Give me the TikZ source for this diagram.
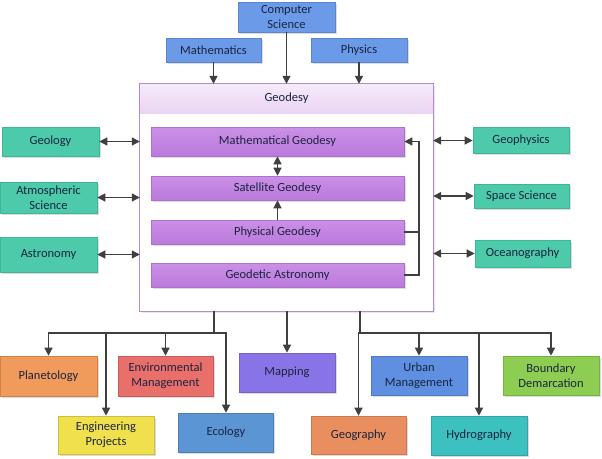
\documentclass[tikz,border=0pt]{standalone}
\usepackage{fontspec}
\setmainfont{Carlito}
\usetikzlibrary{arrows.meta,shadows}
\definecolor{txt}{HTML}{1B2440}
\definecolor{lnc}{HTML}{3F3F3F}
\definecolor{topblue}{HTML}{6A9AE8}
\definecolor{topblueD}{HTML}{5B86CF}
\definecolor{teal}{HTML}{4CCAAA}
\definecolor{tealD}{HTML}{3DB797}
\definecolor{purpT}{HTML}{CB90E6}
\definecolor{purpB}{HTML}{BA7ADC}
\definecolor{purpD}{HTML}{AE70CF}
\definecolor{hdrT}{HTML}{F6EAFA}
\definecolor{hdrB}{HTML}{EAD4F2}
\definecolor{geoD}{HTML}{B48CCB}
\definecolor{cplan}{HTML}{F09A5C}
\definecolor{cenv}{HTML}{E86F6A}
\definecolor{cmap}{HTML}{8874E6}
\definecolor{curb}{HTML}{5E8FE0}
\definecolor{cbnd}{HTML}{8DCE52}
\definecolor{ceng}{HTML}{EFE04C}
\definecolor{ceco}{HTML}{5C95D3}
\definecolor{cgeog}{HTML}{E98F5F}
\definecolor{chyd}{HTML}{3DC0C0}
\tikzset{
  box/.style={rectangle, inner sep=0pt, align=center, text=txt,
    font=\fontsize{12.5}{15}\selectfont,
    drop shadow={shadow xshift=1.5pt, shadow yshift=-1.5pt, fill=black!30, opacity=0.45}},
  topbox/.style={box, fill=topblue, draw=topblueD, line width=0.6pt},
  sidebox/.style={box, fill=teal, draw=tealD, line width=0.6pt},
  inbox/.style={box, top color=purpT, bottom color=purpB, draw=purpD, line width=0.6pt},
  botbox/.style={box, fill=#1, draw=#1!85!black, line width=0.6pt},
  conn/.style={draw=lnc, line width=1.3pt},
  arr/.style={conn, -{Triangle[length=8pt,width=8pt]}},
  dbl/.style={conn, {Triangle[length=8pt,width=8pt]}-{Triangle[length=8pt,width=8pt]}},
}
\begin{document}
\begin{tikzpicture}[x=1pt,y=-1pt]
\useasboundingbox (0,0) rectangle (602,458);
% top
\node[topbox, minimum width=97pt, minimum height=30pt] (cs) at (286.5,17) {Computer\\Science};
\node[topbox, minimum width=95pt, minimum height=24pt] (math) at (213.5,50) {Mathematics};
\node[topbox, minimum width=96pt, minimum height=24pt] (phys) at (359,50) {Physics};
% geodesy frame
\node[rectangle, fill=white, minimum width=293pt, minimum height=227pt, inner sep=0pt,
  drop shadow={shadow xshift=1.5pt, shadow yshift=-1.5pt, fill=black!30, opacity=0.3}] (geo) at (286.5,197.5) {};
\node[rectangle, inner sep=0pt, top color=hdrT, bottom color=hdrB, minimum width=293pt, minimum height=29pt,
  text=txt, font=\fontsize{12.5}{15}\selectfont] (hdr) at (286.5,98.5) {Geodesy};
\draw[geoD, line width=1pt] (geo.north west) rectangle (geo.south east);
% inner boxes
\node[inbox, minimum width=253pt, minimum height=29pt] (mg) at (277.5,141.5) {Mathematical Geodesy};
\node[inbox, minimum width=253pt, minimum height=24pt] (sg) at (277.5,188) {Satellite Geodesy};
\node[inbox, minimum width=253pt, minimum height=24pt] (pg) at (277.5,232) {Physical Geodesy};
\node[inbox, minimum width=253pt, minimum height=24pt] (ga) at (277.5,275) {Geodetic Astronomy};
\coordinate (rj) at (419,141.5);
% side boxes
\node[sidebox, minimum width=97pt, minimum height=29pt] (geol) at (50.5,141.5) {Geology};
\node[sidebox, minimum width=97pt, minimum height=31pt] (atm) at (48.5,197.5) {Atmospheric\\Science};
\node[sidebox, minimum width=97pt, minimum height=35pt] (astr) at (48.5,254.5) {Astronomy};
\node[sidebox, minimum width=96pt, minimum height=26pt] (geop) at (521,140.5) {Geophysics};
\node[sidebox, minimum width=95pt, minimum height=24pt] (spc) at (521.5,196) {Space Science};
\node[sidebox, minimum width=95pt, minimum height=27pt] (ocn) at (522.5,253.5) {Oceanography};
% bottom boxes
\node[botbox=cplan, minimum width=97pt, minimum height=40pt] (plan) at (48.5,376) {Planetology};
\node[botbox=cenv, minimum width=95pt, minimum height=40pt] (env) at (165.5,376) {Environmental\\Management};
\node[botbox=cmap, minimum width=96pt, minimum height=39pt] (mapn) at (287,372.5) {Mapping};
\node[botbox=curb, minimum width=96pt, minimum height=39pt] (urb) at (419,375.5) {Urban\\Management};
\node[botbox=cbnd, minimum width=96pt, minimum height=39pt] (bnd) at (551,375.5) {Boundary\\Demarcation};
\node[botbox=ceng, minimum width=96pt, minimum height=38pt] (eng) at (106,435) {Engineering\\Projects};
\node[botbox=ceco, minimum width=95pt, minimum height=39pt] (eco) at (226,432.5) {Ecology};
\node[botbox=cgeog, minimum width=95pt, minimum height=38pt] (geog) at (358.5,435) {Geography};
\node[botbox=chyd, minimum width=96pt, minimum height=39pt] (hyd) at (479,435.5) {Hydrography};
\coordinate (lj) at (214,333);
\coordinate (rjb) at (360,333);
% top arrows
\draw[arr] (math) -- (math |- geo.north);
\draw[arr] (cs) -- (cs |- geo.north);
\draw[arr] (phys) -- (phys |- geo.north);
% inner arrows
\draw[dbl] (mg) -- (sg);
\draw[arr] (pg) -- (sg);
\draw[conn] (pg.east) -- (pg.east -| rj);
\draw[arr] (ga.east) -- (ga.east -| rj) -- (rj) -- (mg.east);
% side arrows
\draw[dbl] (geol.east) -- (geol.east -| geo.west);
\draw[dbl] (atm.east) -- (atm.east -| geo.west);
\draw[dbl] (astr.east) -- (astr.east -| geo.west);
\draw[dbl] (geo.east |- geop.west) -- (geop.west);
\draw[dbl] (geo.east |- spc.west) -- (spc.west);
\draw[dbl] (geo.east |- ocn.west) -- (ocn.west);
% bottom connectors
\draw[conn] (geo.south -| lj) -- (lj);
\draw[conn] (geo.south -| rjb) -- (rjb);
\draw[arr] (lj) -| (plan.north);
\draw[arr] (lj) -| (eng.north);
\draw[arr] (lj) -| (env.north);
\draw[arr] (lj) -| (eco.north);
\draw[arr] (geo.south -| mapn) -- (mapn.north);
\draw[arr] (rjb) -| (geog.north);
\draw[arr] (rjb) -| (urb.north);
\draw[arr] (rjb) -| (hyd.north);
\draw[arr] (rjb) -| (bnd.north);
\end{tikzpicture}
\end{document}
